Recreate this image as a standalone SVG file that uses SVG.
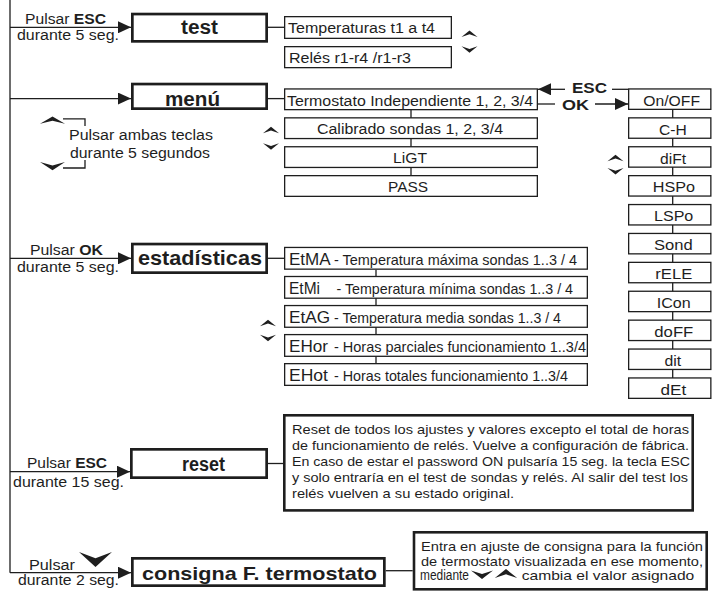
<svg xmlns="http://www.w3.org/2000/svg" width="712" height="592" viewBox="0 0 712 592">
<style>
.ln{stroke:#1e1e1e;stroke-width:1.3;fill:none}
.bx{fill:#fff;stroke:#1e1e1e;stroke-width:1.3}
.mb{fill:#fff;stroke:#1e1e1e;stroke-width:2.7}
text{font-family:"Liberation Sans",Arial,sans-serif;fill:#1e1e1e}
.s{font-size:14px}
.d{font-size:13.5px}
.b{font-weight:bold}
.lb{font-size:20px;font-weight:bold}
.chev{fill:#1e1e1e}
</style>
<defs>
<marker id="ah" viewBox="0 0 13 12" refX="13" refY="6" markerWidth="13" markerHeight="12" orient="auto" markerUnits="userSpaceOnUse">
<path d="M0,0 L13,6 L0,12 Z" fill="#1e1e1e"/>
</marker>
<path id="up" d="M-8,6.5 L0,0 L8,6.5 L0,3.8 Z"/>
<path id="dn" d="M-8,0 L0,6.5 L8,0 L0,2.7 Z"/>
</defs>
<rect width="712" height="592" fill="#fff"/>

<g id="connectors">
<path class="ln" d="M10,0 V572.7"/>
<path class="ln" d="M10,27.3 H131" marker-end="url(#ah)"/>
<path class="ln" d="M10,98.6 H131" marker-end="url(#ah)"/>
<path class="ln" d="M10,258.3 H131" marker-end="url(#ah)"/>
<path class="ln" d="M10,471.7 H130" marker-end="url(#ah)"/>
<path class="ln" d="M10,572.7 H131" marker-end="url(#ah)"/>
<path class="ln" d="M268,27.3 H284"/>
<path class="ln" d="M268,98.6 H284"/>
<path class="ln" d="M411,110 V175"/>
<path class="ln" d="M565,89.3 H538" marker-end="url(#ah)"/>
<path class="ln" d="M612,89.3 H628"/>
<path class="ln" d="M538,104 H555"/>
<path class="ln" d="M595,104 H628" marker-end="url(#ah)"/>
<path class="ln" d="M672.7,110 V378"/>
<path class="ln" d="M268,258.3 H284"/>
<path class="ln" d="M376,269.8 V363"/>
<path class="ln" d="M268,463.5 H283"/>
<path class="ln" d="M385.7,570.7 H412.7"/>
<path class="ln" d="M63,118.8 H85 V126"/>
<path class="ln" d="M63,168 H85 V160"/>
</g>

<g id="labels-left">
<text class="s" x="25" y="24" textLength="81" lengthAdjust="spacingAndGlyphs">Pulsar <tspan class="b">ESC</tspan></text>
<text class="s" x="17" y="39.5" textLength="102" lengthAdjust="spacingAndGlyphs">durante 5 seg.</text>
<text class="s" x="69" y="140" textLength="144" lengthAdjust="spacingAndGlyphs">Pulsar ambas teclas</text>
<text class="s" x="70" y="158" textLength="140" lengthAdjust="spacingAndGlyphs">durante 5 segundos</text>
<text class="s" x="30" y="255" textLength="73" lengthAdjust="spacingAndGlyphs">Pulsar <tspan class="b">OK</tspan></text>
<text class="s" x="17" y="271.7" textLength="102" lengthAdjust="spacingAndGlyphs">durante 5 seg.</text>
<text class="s" x="27" y="468" textLength="80" lengthAdjust="spacingAndGlyphs">Pulsar <tspan class="b">ESC</tspan></text>
<text class="s" x="13" y="487" textLength="111" lengthAdjust="spacingAndGlyphs">durante 15 seg.</text>
<text class="s" x="29" y="570" textLength="46" lengthAdjust="spacingAndGlyphs">Pulsar</text>
<text class="s" x="18" y="585" textLength="101" lengthAdjust="spacingAndGlyphs">durante 2 seg.</text>
<text class="s b" x="572" y="92.5" textLength="35" lengthAdjust="spacingAndGlyphs">ESC</text>
<text class="s b" x="562" y="110" textLength="27" lengthAdjust="spacingAndGlyphs">OK</text>
</g>

<g id="node-test">
<rect class="mb" x="132.35" y="14.05" width="134.3" height="27.3"/>
<text class="lb" x="181" y="34" textLength="37" lengthAdjust="spacingAndGlyphs">test</text>
</g>
<g id="node-test-temp">
<rect class="bx" x="284.65" y="16.65" width="166.7" height="21.7"/>
<text class="s" x="288" y="33.3" textLength="147" lengthAdjust="spacingAndGlyphs">Temperaturas t1 a t4</text>
</g>
<g id="node-test-rel">
<rect class="bx" x="284.65" y="46.65" width="166.7" height="21"/>
<text class="s" x="289" y="63" textLength="122" lengthAdjust="spacingAndGlyphs">Relés r1-r4 /r1-r3</text>
</g>

<g id="node-menu">
<rect class="mb" x="132.35" y="84.05" width="134.3" height="24.6"/>
<text class="lb" x="165" y="106" textLength="55" lengthAdjust="spacingAndGlyphs">menú</text>
</g>
<g id="node-menu-termostato">
<rect class="bx" x="284.65" y="88.95" width="252.7" height="20.7"/>
<text class="s" x="287" y="105.5" textLength="246" lengthAdjust="spacingAndGlyphs">Termostato Independiente 1, 2, 3/4</text>
</g>
<g id="node-menu-calibrado">
<rect class="bx" x="284.65" y="117.85" width="252.7" height="20.7"/>
<text class="s" x="317" y="134" textLength="186" lengthAdjust="spacingAndGlyphs">Calibrado sondas 1, 2, 3/4</text>
</g>
<g id="node-menu-ligt">
<rect class="bx" x="284.65" y="146.75" width="252.7" height="20.7"/>
<text class="s" x="393" y="163" textLength="34" lengthAdjust="spacingAndGlyphs">LiGT</text>
</g>
<g id="node-menu-pass">
<rect class="bx" x="284.65" y="175.65" width="252.7" height="20.7"/>
<text class="s" x="388" y="192" textLength="40" lengthAdjust="spacingAndGlyphs">PASS</text>
</g>

<g id="node-onoff"><rect class="bx" x="628.65" y="88.95" width="82.2" height="20.4"/><text class="s" x="643.3" y="105.7" textLength="56.7" lengthAdjust="spacingAndGlyphs">On/OFF</text></g>
<g id="node-ch"><rect class="bx" x="628.65" y="117.85" width="82.2" height="20.4"/><text class="s" x="659" y="134.6" textLength="27.7" lengthAdjust="spacingAndGlyphs">C-H</text></g>
<g id="node-dift"><rect class="bx" x="628.65" y="146.75" width="82.2" height="20.4"/><text class="s" x="660" y="163.5" textLength="26" lengthAdjust="spacingAndGlyphs">diFt</text></g>
<g id="node-hspo"><rect class="bx" x="628.65" y="175.65" width="82.2" height="20.4"/><text class="s" x="652.7" y="192.4" textLength="42.3" lengthAdjust="spacingAndGlyphs">HSPo</text></g>
<g id="node-lspo"><rect class="bx" x="628.65" y="204.55" width="82.2" height="20.4"/><text class="s" x="654" y="221.3" textLength="39.3" lengthAdjust="spacingAndGlyphs">LSPo</text></g>
<g id="node-sond"><rect class="bx" x="628.65" y="233.45" width="82.2" height="20.4"/><text class="s" x="654" y="250.2" textLength="38.7" lengthAdjust="spacingAndGlyphs">Sond</text></g>
<g id="node-rele"><rect class="bx" x="628.65" y="262.35" width="82.2" height="20.4"/><text class="s" x="655.3" y="279.1" textLength="37" lengthAdjust="spacingAndGlyphs">rELE</text></g>
<g id="node-icon"><rect class="bx" x="628.65" y="291.25" width="82.2" height="20.4"/><text class="s" x="656.7" y="308" textLength="34" lengthAdjust="spacingAndGlyphs">ICon</text></g>
<g id="node-doff"><rect class="bx" x="628.65" y="320.15" width="82.2" height="20.4"/><text class="s" x="654.3" y="336.9" textLength="39" lengthAdjust="spacingAndGlyphs">doFF</text></g>
<g id="node-dit"><rect class="bx" x="628.65" y="349.05" width="82.2" height="20.4"/><text class="s" x="664.5" y="365.8" textLength="16.7" lengthAdjust="spacingAndGlyphs">dit</text></g>
<g id="node-det"><rect class="bx" x="628.65" y="377.95" width="82.2" height="20.4"/><text class="s" x="660.5" y="394.7" textLength="25.7" lengthAdjust="spacingAndGlyphs">dEt</text></g>

<g id="node-estadisticas">
<rect class="mb" x="132.35" y="244.05" width="134.3" height="28.6"/>
<text class="lb" x="138" y="265" textLength="124" lengthAdjust="spacingAndGlyphs" style="font-size:21px">estadísticas</text>
</g>
<g id="node-etma">
<rect class="bx" x="284.65" y="247.45" width="302.7" height="21.7"/>
<text x="289" y="265" style="font-size:16px" textLength="41.7" lengthAdjust="spacingAndGlyphs">EtMA</text>
<text x="334" y="265" style="font-size:15px" textLength="243" lengthAdjust="spacingAndGlyphs">- Temperatura máxima sondas 1..3 / 4</text>
</g>
<g id="node-etmi">
<rect class="bx" x="284.65" y="276.5" width="302.7" height="21.7"/>
<text x="289" y="294" style="font-size:16px" textLength="31" lengthAdjust="spacingAndGlyphs">EtMi</text>
<text x="336.5" y="294" style="font-size:15px" textLength="236.5" lengthAdjust="spacingAndGlyphs">- Temperatura mínima sondas 1..3 / 4</text>
</g>
<g id="node-etag">
<rect class="bx" x="284.65" y="305.55" width="302.7" height="21.7"/>
<text x="289" y="323" style="font-size:16px" textLength="41" lengthAdjust="spacingAndGlyphs">EtAG</text>
<text x="334" y="323" style="font-size:15px" textLength="227" lengthAdjust="spacingAndGlyphs">- Temperatura media sondas 1..3 / 4</text>
</g>
<g id="node-ehor">
<rect class="bx" x="284.65" y="334.6" width="302.7" height="21.7"/>
<text x="289" y="352" style="font-size:16px" textLength="39" lengthAdjust="spacingAndGlyphs">EHor</text>
<text x="334" y="352" style="font-size:15px" textLength="252" lengthAdjust="spacingAndGlyphs">- Horas parciales funcionamiento 1..3/4</text>
</g>
<g id="node-ehot">
<rect class="bx" x="284.65" y="363.65" width="302.7" height="21.7"/>
<text x="289" y="381" style="font-size:16px" textLength="39" lengthAdjust="spacingAndGlyphs">EHot</text>
<text x="334" y="381" style="font-size:15px" textLength="234" lengthAdjust="spacingAndGlyphs">- Horas totales funcionamiento 1..3/4</text>
</g>

<g id="node-reset">
<rect class="mb" x="131.35" y="449.35" width="135.3" height="28.3"/>
<text class="lb" x="182" y="470.7" textLength="43" lengthAdjust="spacingAndGlyphs">reset</text>
</g>
<g id="node-reset-info">
<rect class="mb" x="284.3" y="415.3" width="408.4" height="95.1" style="stroke-width:2.6"/>
<text class="d" x="292" y="434" textLength="397" lengthAdjust="spacingAndGlyphs">Reset de todos los ajustes y valores excepto el total de horas</text>
<text class="d" x="292" y="450" textLength="397" lengthAdjust="spacingAndGlyphs">de funcionamiento de relés. Vuelve a configuración de fábrica.</text>
<text class="d" x="292" y="466" textLength="398" lengthAdjust="spacingAndGlyphs">En caso de estar el password ON pulsaría 15 seg. la tecla ESC</text>
<text class="d" x="292" y="482" textLength="396" lengthAdjust="spacingAndGlyphs">y solo entraría en el test de sondas y relés. Al salir del test los</text>
<text class="d" x="292" y="498" textLength="222" lengthAdjust="spacingAndGlyphs">relés vuelven a su estado original.</text>
</g>

<g id="node-consigna">
<rect class="mb" x="132.35" y="558.35" width="252" height="27.3"/>
<text class="lb" x="142" y="580" textLength="235" lengthAdjust="spacingAndGlyphs" style="font-size:19px">consigna F. termostato</text>
</g>
<g id="node-consigna-info">
<rect class="mb" x="414" y="532.3" width="292.7" height="57" style="stroke-width:2.6"/>
<text class="d" x="421" y="550.5" textLength="282" lengthAdjust="spacingAndGlyphs">Entra en ajuste de consigna para la función</text>
<text class="d" x="421" y="565.5" textLength="282" lengthAdjust="spacingAndGlyphs">de termostato visualizada en ese momento,</text>
<text x="420" y="580" style="font-size:14px" textLength="49" lengthAdjust="spacingAndGlyphs">mediante</text>
<text class="d" x="521.7" y="580" textLength="172.6" lengthAdjust="spacingAndGlyphs">cambia el valor asignado</text>
</g>

<g id="chevrons" class="chev">
<use href="#up" transform="translate(469.5,30.5)"/>
<use href="#dn" transform="translate(469.5,46.3)"/>
<use href="#up" transform="translate(271,126.7)"/>
<use href="#dn" transform="translate(271,143.3)"/>
<use href="#up" transform="translate(615.5,154.7)"/>
<use href="#dn" transform="translate(615.5,168)"/>
<use href="#up" transform="translate(268,319.7)"/>
<use href="#dn" transform="translate(268,334.8)"/>
<use href="#up" transform="translate(52.5,116.5) scale(1.56,1.1)"/>
<use href="#dn" transform="translate(52.5,162) scale(1.56,1.25)"/>
<use href="#dn" transform="translate(95.5,552) scale(2.06,2.3)"/>
<use href="#dn" transform="translate(482,570.5) scale(1.375,1.3)"/>
<use href="#up" transform="translate(506,569) scale(1.4,1.4)"/>
</g>
</svg>
